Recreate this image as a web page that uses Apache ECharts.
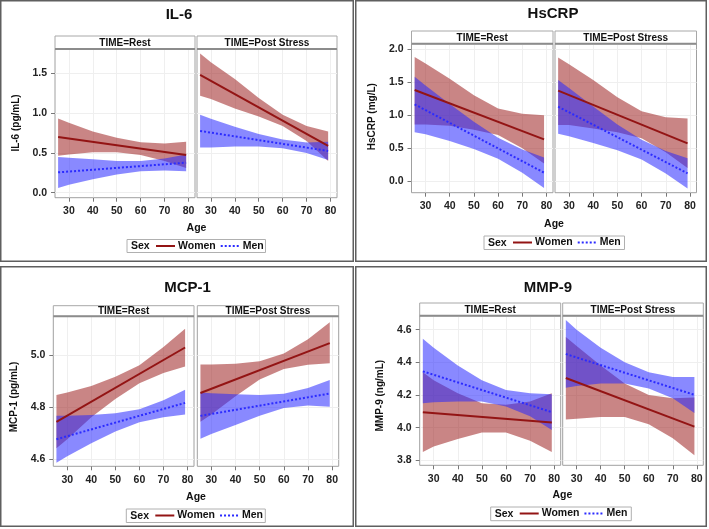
<!DOCTYPE html>
<html><head><meta charset="utf-8">
<script src="https://cdn.jsdelivr.net/npm/echarts@6/dist/echarts.min.js"></script>
<style>html,body{margin:0;padding:0;background:#fff}#c{width:709px;height:529px}</style>
</head><body><div id="c"></div><script>
// ---------- data ----------
const AGES = [25.5, 30, 40, 50, 60, 70, 79];   // ages at which band limits were read
const FIT_AGES = [25.5, 79];                   // ends of the fitted lines
const AGE_TICKS = [30, 40, 50, 60, 70, 80];
const IL6_TICKS = [0, 0.5, 1.0, 1.5];
const HSCRP_TICKS = [0, 0.5, 1.0, 1.5, 2.0];
const MCP1_TICKS = [4.6, 4.8, 5.0];
const MMP9_TICKS = [3.8, 4.0, 4.2, 4.4, 4.6];
const TIME_LABELS = ['TIME=Rest', 'TIME=Post Stress'];
const SEX_LABELS = ['Women', 'Men'];

// IL-6
const il6RestWomenFit = [0.70, 0.475];
const il6RestWomenLo = [0.465, 0.48, 0.51, 0.51, 0.475, 0.40, 0.31];
const il6RestWomenHi = [0.935, 0.88, 0.77, 0.69, 0.635, 0.62, 0.64];
const il6RestMenFit = [0.256, 0.378];
const il6RestMenLo = [0.06, 0.10, 0.17, 0.23, 0.27, 0.28, 0.27];
const il6RestMenHi = [0.45, 0.44, 0.42, 0.40, 0.40, 0.43, 0.48];
const il6PostWomenFit = [1.483, 0.59];
const il6PostWomenLo = [1.22, 1.18, 1.06, 0.96, 0.84, 0.65, 0.40];
const il6PostWomenHi = [1.75, 1.64, 1.43, 1.19, 0.98, 0.84, 0.77];
const il6PostMenFit = [0.777, 0.525];
const il6PostMenLo = [0.57, 0.57, 0.58, 0.58, 0.56, 0.50, 0.41];
const il6PostMenHi = [0.98, 0.93, 0.83, 0.74, 0.67, 0.63, 0.64];
// HsCRP
const crpRestWomenFit = [1.38, 0.634];
const crpRestWomenLo = [0.86, 0.86, 0.84, 0.78, 0.70, 0.50, 0.27];
const crpRestWomenHi = [1.88, 1.78, 1.55, 1.30, 1.10, 1.02, 1.00];
const crpRestMenFit = [1.163, 0.131];
const crpRestMenLo = [0.74, 0.71, 0.61, 0.49, 0.34, 0.13, -0.10];
const crpRestMenHi = [1.58, 1.45, 1.17, 0.90, 0.66, 0.48, 0.36];
const crpPostWomenFit = [1.37, 0.574];
const crpPostWomenLo = [0.85, 0.85, 0.80, 0.74, 0.65, 0.44, 0.20];
const crpPostWomenHi = [1.87, 1.77, 1.53, 1.27, 1.06, 0.97, 0.95];
const crpPostMenFit = [1.128, 0.121];
const crpPostMenLo = [0.72, 0.68, 0.58, 0.47, 0.33, 0.12, -0.11];
const crpPostMenHi = [1.53, 1.41, 1.13, 0.86, 0.63, 0.46, 0.35];
// MCP-1
const mcpRestWomenFit = [4.742, 5.028];
const mcpRestWomenLo = [4.64, 4.675, 4.76, 4.83, 4.89, 4.93, 4.955];
const mcpRestWomenHi = [4.845, 4.855, 4.88, 4.915, 4.96, 5.03, 5.10];
const mcpRestMenFit = [4.675, 4.815];
const mcpRestMenLo = [4.585, 4.61, 4.66, 4.705, 4.74, 4.76, 4.77];
const mcpRestMenHi = [4.765, 4.765, 4.768, 4.775, 4.79, 4.825, 4.865];
const mcpPostWomenFit = [4.853, 5.045];
const mcpPostWomenLo = [4.742, 4.77, 4.84, 4.905, 4.945, 4.962, 4.967];
const mcpPostWomenHi = [4.963, 4.963, 4.965, 4.975, 5.005, 5.06, 5.125];
const mcpPostMenFit = [4.765, 4.851];
const mcpPostMenLo = [4.677, 4.695, 4.73, 4.765, 4.795, 4.805, 4.80];
const mcpPostMenHi = [4.855, 4.852, 4.848, 4.845, 4.85, 4.872, 4.903];
// MMP-9
const mmpRestWomenFit = [4.094, 4.031];
const mmpRestWomenLo = [3.85, 3.885, 3.93, 3.97, 3.97, 3.92, 3.85];
const mmpRestWomenHi = [4.34, 4.29, 4.21, 4.15, 4.14, 4.16, 4.21];
const mmpRestMenFit = [4.345, 4.095];
const mmpRestMenLo = [4.15, 4.155, 4.16, 4.16, 4.13, 4.07, 3.985];
const mmpRestMenHi = [4.545, 4.49, 4.38, 4.29, 4.23, 4.21, 4.205];
const mmpPostWomenFit = [4.304, 4.006];
const mmpPostWomenLo = [4.05, 4.055, 4.065, 4.065, 4.02, 3.935, 3.83];
const mmpPostWomenHi = [4.555, 4.50, 4.38, 4.27, 4.20, 4.18, 4.185];
const mmpPostMenFit = [4.451, 4.201];
const mmpPostMenLo = [4.245, 4.255, 4.27, 4.27, 4.24, 4.18, 4.09];
const mmpPostMenHi = [4.66, 4.60, 4.49, 4.40, 4.34, 4.31, 4.31];

// ---------- styling / layout ----------
const FONT = '"Liberation Sans", Arial, sans-serif';
const WOMEN_LINE = '#931414', MEN_LINE = '#2b2bff';
const WOMEN_FILL = 'rgba(160,40,40,0.57)', MEN_FILL = 'rgba(40,40,255,0.55)';
const X_MIN = 24.2, X_MAX = 82.7;

const panels = [
  { name: 'IL-6', ytitle: 'IL-6 (pg/mL)', ticks: IL6_TICKS, ymin: -0.063, ymax: 1.808,
    frame: [0.75, 0.75, 352.5, 260.5], title: [179, 15], ytitlePos: [16.5, 123], age: [196.5, 228],
    legend: [127, 239.5, 138.5, 13], headTop: 36, gridTop: 49, gridBottom: 197.7,
    subs: [[55, 195], [197, 337]],
    data: [[il6RestWomenFit, il6RestWomenLo, il6RestWomenHi, il6RestMenFit, il6RestMenLo, il6RestMenHi],
           [il6PostWomenFit, il6PostWomenLo, il6PostWomenHi, il6PostMenFit, il6PostMenLo, il6PostMenHi]] },
  { name: 'HsCRP', ytitle: 'HsCRP (mg/L)', ticks: HSCRP_TICKS, ymin: -0.172, ymax: 2.08,
    frame: [355.75, 0.75, 350.5, 260.5], title: [553, 14], ytitlePos: [372.3, 116.7], age: [554, 224.3],
    legend: [484, 236, 140.5, 13.5], headTop: 31, gridTop: 43.7, gridBottom: 192.7,
    subs: [[411.5, 553], [555, 696.5]],
    data: [[crpRestWomenFit, crpRestWomenLo, crpRestWomenHi, crpRestMenFit, crpRestMenLo, crpRestMenHi],
           [crpPostWomenFit, crpPostWomenLo, crpPostWomenHi, crpPostMenFit, crpPostMenLo, crpPostMenHi]] },
  { name: 'MCP-1', ytitle: 'MCP-1 (pg/mL)', ticks: MCP1_TICKS, ymin: 4.571, ymax: 5.148,
    frame: [0.75, 266.75, 352.5, 259.5], title: [187.5, 287.5], ytitlePos: [14.7, 397], age: [196, 497.3],
    legend: [126.3, 509, 139, 13.5], headTop: 305.7, gridTop: 316.3, gridBottom: 466.3,
    subs: [[53.3, 194], [197.3, 338.7]],
    data: [[mcpRestWomenFit, mcpRestWomenLo, mcpRestWomenHi, mcpRestMenFit, mcpRestMenLo, mcpRestMenHi],
           [mcpPostWomenFit, mcpPostWomenLo, mcpPostWomenHi, mcpPostMenFit, mcpPostMenLo, mcpPostMenHi]] },
  { name: 'MMP-9', ytitle: 'MMP-9 (ng/mL)', ticks: MMP9_TICKS, ymin: 3.769, ymax: 4.686,
    frame: [355.75, 266.75, 350.5, 259.5], title: [548, 288], ytitlePos: [380, 395.7], age: [562.3, 495],
    legend: [490.7, 507, 140.6, 13.7], headTop: 303, gridTop: 315.7, gridBottom: 465.3,
    subs: [[419.7, 560.7], [562.7, 703.3]],
    data: [[mmpRestWomenFit, mmpRestWomenLo, mmpRestWomenHi, mmpRestMenFit, mmpRestMenLo, mmpRestMenHi],
           [mmpPostWomenFit, mmpPostWomenLo, mmpPostWomenHi, mmpPostMenFit, mmpPostMenLo, mmpPostMenHi]] }
];

const grids = [], xAxes = [], yAxes = [], series = [], graphics = [], legends = [];

function bandSeries(gi, lo, hi, fill) {
  return {
    type: 'custom', xAxisIndex: gi, yAxisIndex: gi, silent: true, z: 1,
    data: AGES.map((a, i) => [a, lo[i], hi[i]]),
    encode: { x: 0, y: [1, 2] },
    renderItem(params, api) {
      if (params.dataIndexInside !== 0) return null;
      const n = params.dataInsideLength, top = [], bot = [];
      for (let i = 0; i < n; i++) {
        top.push(api.coord([api.value(0, i), api.value(2, i)]));
        bot.push(api.coord([api.value(0, i), api.value(1, i)]));
      }
      return { type: 'polygon', shape: { points: top.concat(bot.reverse()) }, style: { fill: fill } };
    }
  };
}
function fitSeries(gi, name, fit, color, type) {
  return {
    type: 'line', name: name, xAxisIndex: gi, yAxisIndex: gi, silent: true, z: 3,
    data: FIT_AGES.map((a, i) => [a, fit[i]]), symbol: 'none', animation: false,
    lineStyle: { color: color, width: 2, type: type }, itemStyle: { color: color }
  };
}
const txt = (x, y, text, size, extra) => Object.assign({
  type: 'text', x: x, y: y, z: 10,
  style: { text: text, font: 'bold ' + size + 'px ' + FONT, fill: '#111', textAlign: 'center', textVerticalAlign: 'middle' }
}, extra || {});

panels.forEach(p => {
  const f = p.frame;
  graphics.push({ type: 'rect', z: 0, shape: { x: f[0], y: f[1], width: f[2], height: f[3] },
    style: { fill: 'none', stroke: '#5f5f5f', lineWidth: 1.5 } });
  graphics.push(txt(p.title[0], p.title[1], p.name, 15));
  graphics.push(txt(p.ytitlePos[0], p.ytitlePos[1], p.ytitle, 10, { rotation: Math.PI / 2 }));
  graphics.push(txt(p.age[0], p.age[1], 'Age', 10.5));
  const L = p.legend;
  graphics.push({ type: 'rect', z: 0, shape: { x: L[0], y: L[1], width: L[2], height: L[3] },
    style: { fill: '#fff', stroke: '#b0b0b0', lineWidth: 1 } });
  const sex = txt(L[0] + 4, L[1] + L[3] / 2 + 0.5, 'Sex', 10.5);
  sex.style.textAlign = 'left';
  graphics.push(sex);
  legends.push({
    data: SEX_LABELS, left: L[0] + 28, top: L[1] + 1, padding: 0, itemGap: 4,
    itemWidth: 19, itemHeight: 11, selectedMode: false, z: 12,
    itemStyle: { color: 'rgba(0,0,0,0)', borderColor: 'rgba(0,0,0,0)', borderWidth: 0, opacity: 0 },
    textStyle: { fontFamily: FONT, fontWeight: 'bold', fontSize: 10.5, color: '#111', padding: [0, 0, 0, -2] }
  });

  p.subs.forEach((s, k) => {
    const gi = grids.length;
    const d = p.data[k];
    grids.push({ left: s[0], top: p.gridTop, width: s[1] - s[0], height: p.gridBottom - p.gridTop,
      show: true, borderColor: '#a0a0a0', borderWidth: 1, backgroundColor: 'transparent' });
    xAxes.push({
      type: 'value', gridIndex: gi, min: X_MIN, max: X_MAX, position: 'bottom',
      axisLine: { show: false, onZero: false },
      axisTick: { show: true, customValues: AGE_TICKS, length: 4, lineStyle: { color: '#777' } },
      axisLabel: { customValues: AGE_TICKS, margin: 8, fontFamily: FONT, fontWeight: 'bold', fontSize: 10.5, color: '#222' },
      splitLine: { show: true, lineStyle: { color: '#efefef', width: 1 } }
    });
    yAxes.push({
      type: 'value', gridIndex: gi, min: p.ymin, max: p.ymax, position: 'left',
      axisLine: { show: false, onZero: false },
      axisTick: { show: k === 0, customValues: p.ticks, length: 4, lineStyle: { color: '#777' } },
      axisLabel: { show: k === 0, customValues: p.ticks, margin: 8, fontFamily: FONT, fontWeight: 'bold', fontSize: 10.5, color: '#222',
        formatter: v => Number(v).toFixed(1) },
      splitLine: { show: true, lineStyle: { color: '#efefef', width: 1 } }
    });
    graphics.push({ type: 'rect', z: 5, shape: { x: s[0], y: p.headTop, width: s[1] - s[0], height: p.gridTop - p.headTop },
      style: { fill: '#fff', stroke: '#a8a8a8', lineWidth: 1 } });
    graphics.push({ type: 'line', z: 6, shape: { x1: s[0], y1: p.gridTop, x2: s[1], y2: p.gridTop },
      style: { stroke: '#8c8c8c', lineWidth: 2 } });
    graphics.push(txt((s[0] + s[1]) / 2, (p.headTop + p.gridTop) / 2 + 0.5, TIME_LABELS[k], 10));
    series.push(bandSeries(gi, d[1], d[2], WOMEN_FILL));
    series.push(bandSeries(gi, d[4], d[5], MEN_FILL));
    series.push(fitSeries(gi, SEX_LABELS[0], d[0], WOMEN_LINE, 'solid'));
    series.push(fitSeries(gi, SEX_LABELS[1], d[3], MEN_LINE, [2, 2]));
  });
});

const chart = echarts.init(document.getElementById('c'), null, { renderer: 'canvas' });
chart.setOption({
  animation: false,
  backgroundColor: '#fff',
  grid: grids, xAxis: xAxes, yAxis: yAxes, series: series, legend: legends,
  graphic: { elements: graphics }
});
</script></body></html>
